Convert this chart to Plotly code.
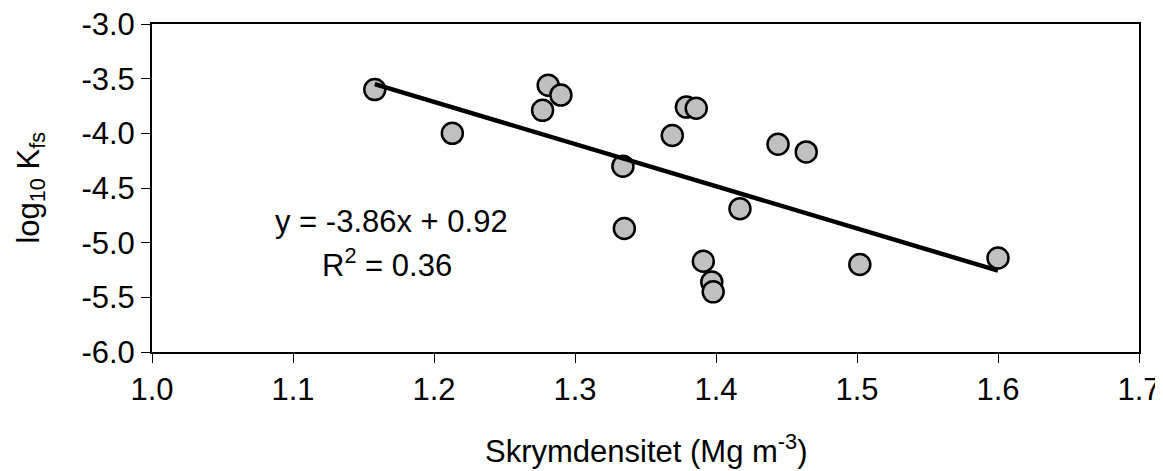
import plotly.graph_objects as go

# Data
bulk_density = [1.158, 1.213, 1.281, 1.290, 1.277, 1.334, 1.379, 1.386, 1.369,
                1.444, 1.464, 1.417, 1.335, 1.391, 1.397, 1.398, 1.502, 1.600]
log10_kfs = [-3.60, -4.00, -3.56, -3.65, -3.79, -4.30, -3.76, -3.77, -4.02,
             -4.10, -4.17, -4.69, -4.87, -5.17, -5.36, -5.45, -5.20, -5.14]

slope = -3.86
intercept = 0.92
trend_x = [min(bulk_density), max(bulk_density)]
trend_y = [slope * x + intercept for x in trend_x]

x_ticks = [1.0, 1.1, 1.2, 1.3, 1.4, 1.5, 1.6, 1.7]
y_ticks = [-6.0, -5.5, -5.0, -4.5, -4.0, -3.5, -3.0]

equation_text = "y = -3.86x + 0.92"
r2_text = "R<sup>2</sup> = 0.36"
x_title = "Skrymdensitet (Mg m<sup>-3</sup>)"
y_title = "log<sub>10</sub> K<sub>fs</sub>"

FONT = "Liberation Sans, Arial, sans-serif"
FS = 31

fig = go.Figure()
fig.add_trace(go.Scatter(
    x=bulk_density, y=log10_kfs, mode="markers",
    marker=dict(size=21, color="#c0c0c0", line=dict(color="black", width=2.5)),
    showlegend=False, hoverinfo="x+y"))
fig.add_trace(go.Scatter(
    x=trend_x, y=trend_y, mode="lines",
    line=dict(color="black", width=4.5), showlegend=False))

fig.add_annotation(x=1.1697, y=-4.81, xref="x", yref="y",
                   text=equation_text, showarrow=False,
                   font=dict(family=FONT, size=FS, color="black"))
fig.add_annotation(x=1.167, y=-5.19, xref="x", yref="y",
                   text=r2_text, showarrow=False,
                   font=dict(family=FONT, size=FS, color="black"))

# axis titles placed as annotations (paper coords relative to plot area)
fig.add_annotation(x=0.5, y=-0.296, xref="paper", yref="paper",
                   text=x_title, showarrow=False, xanchor="center", yanchor="middle",
                   font=dict(family=FONT, size=FS, color="black"))
fig.add_annotation(x=-0.123, y=0.5, xref="paper", yref="paper",
                   text=y_title, showarrow=False, textangle=-90,
                   xanchor="center", yanchor="middle",
                   font=dict(family=FONT, size=FS, color="black"))

axis_common = dict(showline=True, linecolor="black", linewidth=2, mirror=True,
                   showgrid=False, zeroline=False, ticks="outside", ticklen=9,
                   tickwidth=1, tickcolor="black", ticklabeloverflow="allow",
                   tickfont=dict(family=FONT, size=FS, color="black"))

fig.update_xaxes(range=[1.0, 1.7], tickvals=x_ticks,
                 ticktext=[f"{v:.1f}" for v in x_ticks], **axis_common)
fig.update_yaxes(range=[-6.0, -3.0], tickvals=y_ticks,
                 ticktext=[f"{v:.1f}" for v in y_ticks], **axis_common)

# page body has an 8px default margin, so the figure is 8px smaller than the window
fig.update_layout(width=1155, height=463,
                  margin=dict(l=144, r=24, t=16, b=119, autoexpand=False),
                  plot_bgcolor="white", paper_bgcolor="white",
                  font=dict(family=FONT, size=FS, color="black"))

fig.write_html("out.html")
